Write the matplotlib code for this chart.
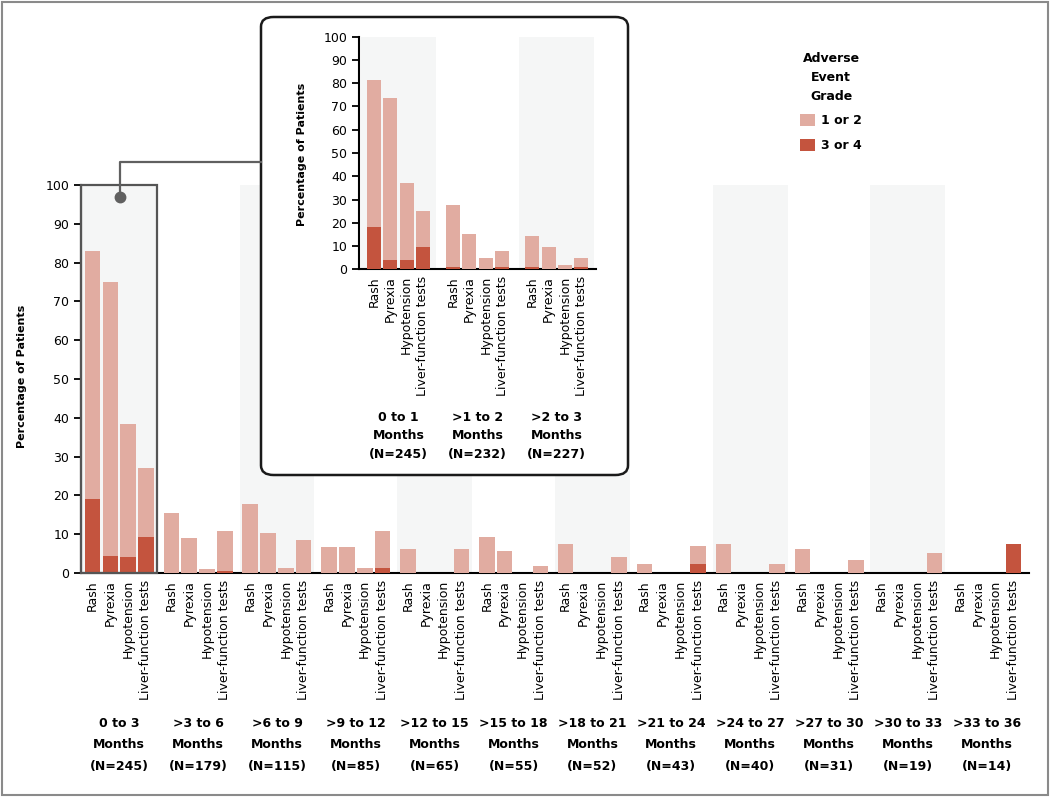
import matplotlib
matplotlib.use('Agg')
import matplotlib.pyplot as plt
import numpy as np
from matplotlib.patches import Rectangle, FancyBboxPatch
from matplotlib.lines import Line2D
from matplotlib.transforms import blended_transform_factory

# ---- data ----
events = ['Rash', 'Pyrexia', 'Hypotension', 'Liver-function tests']

periods = ['0 to 3', '>3 to 6', '>6 to 9', '>9 to 12', '>12 to 15', '>15 to 18',
           '>18 to 21', '>21 to 24', '>24 to 27', '>27 to 30', '>30 to 33', '>33 to 36']
n_patients = [245, 179, 115, 85, 65, 55, 52, 43, 40, 31, 19, 14]

# percent with grade 3 or 4 / grade 1 or 2 (stacked)
rash_g34 = [19, 0, 0, 0, 0, 0, 0, 0, 0, 0, 0, 0]
rash_g12 = [64, 15.5, 17.7, 6.8, 6.3, 9.2, 7.5, 2.2, 7.5, 6.3, 0, 0]
pyrexia_g34 = [4.5, 0, 0, 0, 0, 0, 0, 0, 0, 0, 0, 0]
pyrexia_g12 = [70.5, 9.1, 10.3, 6.8, 0, 5.7, 0, 0, 0, 0, 0, 0]
hypo_g34 = [4, 0, 0, 0, 0, 0, 0, 0, 0, 0, 0, 0]
hypo_g12 = [34.5, 1.1, 1.2, 1.2, 0, 0, 0, 0, 0, 0, 0, 0]
lft_g34 = [9.2, 0.6, 0, 1.2, 0, 0, 0, 2.3, 0, 0, 0, 7.4]
lft_g12 = [17.8, 10.2, 8.6, 9.6, 6.3, 1.7, 4.0, 4.6, 2.3, 3.3, 5.2, 0]

# inset: first 3 months by month
inset_periods = ['0 to 1', '>1 to 2', '>2 to 3']
inset_n = [245, 232, 227]
in_rash_g34 = [18, 1, 1]
in_rash_g12 = [63.5, 26.8, 13.5]
in_pyrexia_g34 = [4, 0, 0]
in_pyrexia_g12 = [69.5, 15.3, 9.5]
in_hypo_g34 = [4, 0, 0]
in_hypo_g12 = [33.3, 4.7, 1.8]
in_lft_g34 = [9.7, 1, 1]
in_lft_g12 = [15.3, 6.7, 3.7]

light = '#E1ACA1'
dark = '#C4543E'
shade = '#F5F6F6'

W, H = 1050, 797
plt.rcParams['font.family'] = ['DejaVu Sans']


def fx(px):
    return px / W


def fy(py):
    return 1 - py / H


def draw_groups(ax, g34s, g12s, labels, ns, pitch, width, fsize):
    n = len(labels)
    x = np.arange(n)
    ticks, ticklabels = [], []
    for k, (g34, g12) in enumerate(zip(g34s, g12s)):
        pos = x + (k - 1.5) * pitch
        b1 = ax.bar(pos, g34, width, color=dark, zorder=3)
        b2 = ax.bar(pos, g12, width, bottom=g34, color=light, zorder=3)
        ticks += list(pos)
        ticklabels += [events[k]] * n
    ax.set_xticks(ticks)
    ax.set_xticklabels(ticklabels, rotation=90, fontsize=fsize)
    ax.tick_params(axis='x', length=0, pad=5)
    ax.set_ylim(0, 100)
    ax.set_yticks(range(0, 101, 10))
    ax.tick_params(axis='y', length=5, width=1.3, labelsize=9)
    for s in ['top', 'right']:
        ax.spines[s].set_visible(False)
    for s in ['left', 'bottom']:
        ax.spines[s].set_linewidth(1.5)
    for i in range(0, n, 2):
        ax.axvspan(i - 0.475, i + 0.475, color=shade, zorder=0, lw=0)
    return b1, b2


fig = plt.figure(figsize=(W / 100, H / 100), dpi=100)

# ---- main chart ----
ax = fig.add_axes([fx(81), fy(573), (1029 - 81) / W, (573 - 185) / H])
hi, lo = draw_groups(ax, [rash_g34, pyrexia_g34, hypo_g34, lft_g34],
                     [rash_g12, pyrexia_g12, hypo_g12, lft_g12],
                     periods, n_patients, 0.2261, 0.1966, 9)
ax.set_xlim(-0.485, 11.536)
ax.add_patch(Rectangle((-0.485, 0), 0.96, 100, fill=False, ec='#555555',
                       lw=1.6, zorder=4, clip_on=False))
tr = blended_transform_factory(ax.transData, fig.transFigure)
for i, (p, n) in enumerate(zip(periods, n_patients)):
    ax.text(i, fy(745), f'{p}\nMonths\n(N={n})', transform=tr, ha='center',
            va='center', fontsize=9, fontweight='bold', linespacing=1.85)
fig.text(fx(22), fy(376), 'Percentage of Patients', rotation=90, ha='center',
         va='center', fontsize=8, fontweight='bold')

# ---- inset ----
box = FancyBboxPatch((fx(261), fy(475)), fx(628) - fx(261), (475 - 17) / H,
                     boxstyle='round,pad=0,rounding_size=0.012',
                     transform=fig.transFigure, fc='white', ec='#1a1a1a',
                     lw=1.8, zorder=1)
fig.add_artist(box)
conn = Line2D([fx(261), fx(119.5), fx(119.5)], [fy(162), fy(162), fy(197)],
              transform=fig.transFigure, color='#606060', lw=1.6, zorder=2)
fig.add_artist(conn)
dot = Line2D([fx(119.5)], [fy(197)], marker='o', markersize=7.5,
             color='#606060', transform=fig.transFigure, zorder=2)
fig.add_artist(dot)

axi = fig.add_axes([fx(359), fy(269.3), (596 - 359) / W, (269.3 - 36.7) / H],
                   zorder=3)
axi.patch.set_alpha(0)
draw_groups(axi, [in_rash_g34, in_pyrexia_g34, in_hypo_g34, in_lft_g34],
            [in_rash_g12, in_pyrexia_g12, in_hypo_g12, in_lft_g12],
            inset_periods, inset_n, 0.206, 0.177, 9)
axi.set_xlim(-0.5, 2.497)
tri = blended_transform_factory(axi.transData, fig.transFigure)
for i, (p, n) in enumerate(zip(inset_periods, inset_n)):
    axi.text(i, fy(436), f'{p}\nMonths\n(N={n})', transform=tri, ha='center',
             va='center', fontsize=9, fontweight='bold', linespacing=1.55)
fig.text(fx(302), fy(154), 'Percentage of Patients', rotation=90, ha='center',
         va='center', fontsize=8, fontweight='bold', zorder=3)

# ---- legend ----
leg = fig.legend([lo, hi], ['1 or 2', '3 or 4'], loc='upper left',
                 bbox_to_anchor=(fx(800), fy(52)), frameon=False,
                 title='Adverse\nEvent\nGrade', alignment='center',
                 title_fontproperties={'weight': 'bold', 'size': 9},
                 prop={'weight': 'bold', 'size': 9}, borderpad=0,
                 borderaxespad=0, handlelength=1.2, handleheight=1.1,
                 handletextpad=0.5, labelspacing=0.9)
leg.get_title().set_linespacing(1.6)
leg.get_title().set_multialignment('center')

# outer frame
fig.add_artist(Rectangle((0.002, 0.003), 0.996, 0.994, transform=fig.transFigure,
                         fill=False, ec='#8a8a8a', lw=1.5))

fig.savefig('out.png', dpi=100)
